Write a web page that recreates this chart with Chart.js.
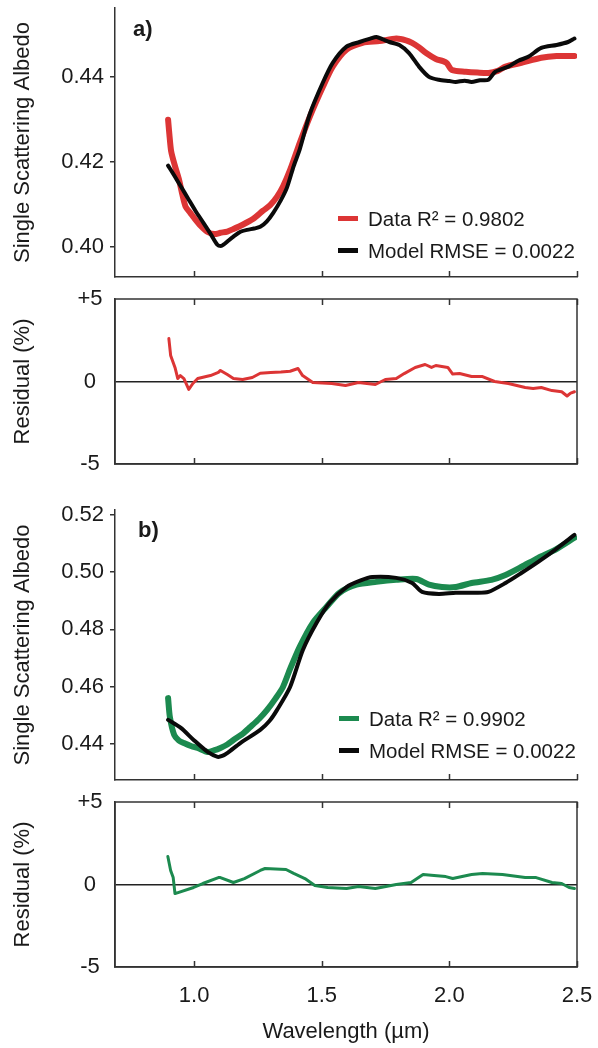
<!DOCTYPE html>
<html><head><meta charset="utf-8">
<script src="https://cdn.jsdelivr.net/npm/chart.js@4.4.1/dist/chart.umd.min.js"></script>
<style>
html,body{margin:0;padding:0;background:#fff;}
#wrap{position:relative;width:598px;height:1048px;overflow:hidden;font-family:'Liberation Sans',Arial,sans-serif;color:#1a1a1a;}
canvas{position:absolute;left:0;top:0;}
.lbl{position:absolute;white-space:nowrap;font-weight:bold;font-size:22px;line-height:26px;}
.leg{position:absolute;font-size:20.5px;line-height:24px;white-space:nowrap;}
.sw{position:absolute;width:20px;height:5px;}
</style></head><body>
<div id="wrap">
<canvas id="cA" width="598" height="1048"></canvas>
<canvas id="cRA" width="598" height="1048"></canvas>
<canvas id="cB" width="598" height="1048"></canvas>
<canvas id="cRB" width="598" height="1048"></canvas>
</div>
<script>
// ---------- data ----------
const xTicks = [1.0, 1.5, 2.0, 2.5];
const ssaTicksA = [0.40, 0.42, 0.44];
const ssaTicksB = [0.44, 0.46, 0.48, 0.50, 0.52];
const resTicks = [-5, 0, 5];
const panelLabels = ['a)', 'b)'];
const seriesNames = ['Data', 'Model'];
const legendA = ['Data R\u00B2 = 0.9802', 'Model RMSE = 0.0022'];
const legendB = ['Data R\u00B2 = 0.9902', 'Model RMSE = 0.0022'];

const wlDataA  = [0.898,0.903,0.910,0.925,0.940,0.955,0.967,0.985,1.000,1.025,1.053,1.080,1.103,1.130,1.154,1.190,1.232,1.270,1.298,1.325,1.349,1.376,1.414,1.453,1.504,1.543,1.597,1.660,1.726,1.792,1.830,1.854,1.880,1.909,1.947,1.975,1.990,2.010,2.064,2.110,2.153,2.190,2.220,2.282,2.360,2.420,2.490];
const ssaDataA = [0.4299,0.4265,0.4225,0.4190,0.4160,0.4120,0.4094,0.4080,0.4068,0.4050,0.4035,0.4030,0.4033,0.4036,0.4042,0.4052,0.4066,0.4085,0.4098,0.4118,0.4143,0.4181,0.4245,0.4306,0.4376,0.4424,0.4464,0.4480,0.4484,0.4490,0.4486,0.4480,0.4470,0.4456,0.4442,0.4437,0.4432,0.4416,0.4412,0.4410,0.4409,0.4414,0.4424,0.4433,0.4445,0.4449,0.4449];

const wlModelA  = [0.898,0.921,0.950,0.975,1.005,1.037,1.065,1.091,1.105,1.115,1.135,1.154,1.180,1.208,1.235,1.259,1.285,1.310,1.340,1.364,1.390,1.414,1.453,1.504,1.543,1.597,1.648,1.690,1.714,1.740,1.765,1.804,1.842,1.881,1.920,1.959,2.000,2.025,2.060,2.087,2.120,2.153,2.180,2.231,2.270,2.309,2.360,2.420,2.465,2.490];
const ssaModelA = [0.4191,0.4169,0.4140,0.4115,0.4085,0.4056,0.4030,0.4005,0.4002,0.4005,0.4015,0.4024,0.4035,0.4040,0.4043,0.4047,0.4060,0.4080,0.4110,0.4140,0.4190,0.4230,0.4312,0.4386,0.4433,0.4471,0.4482,0.4490,0.4494,0.4488,0.4482,0.4475,0.4456,0.4424,0.4400,0.4393,0.4390,0.4388,0.4391,0.4388,0.4392,0.4393,0.4412,0.4424,0.4438,0.4447,0.4468,0.4475,0.4482,0.4490];

const wlResA  = [0.901,0.908,0.925,0.936,0.946,0.960,0.979,0.995,1.014,1.064,1.095,1.103,1.130,1.154,1.190,1.228,1.259,1.300,1.340,1.376,1.407,1.425,1.465,1.539,1.593,1.644,1.710,1.749,1.792,1.823,1.866,1.905,1.930,1.947,1.994,2.013,2.040,2.087,2.130,2.177,2.231,2.297,2.328,2.360,2.402,2.440,2.461,2.475,2.490];
const resA    = [2.6,1.58,0.85,0.18,0.36,0.18,-0.48,-0.12,0.18,0.36,0.55,0.67,0.42,0.18,0.12,0.24,0.50,0.55,0.58,0.62,0.79,0.36,-0.06,-0.12,-0.24,-0.06,-0.18,0.12,0.18,0.48,0.85,1.03,0.85,0.97,0.85,0.45,0.48,0.30,0.30,0.00,-0.12,-0.36,-0.42,-0.36,-0.55,-0.62,-0.88,-0.70,-0.62];

const wlDataB  = [0.898,0.905,0.922,0.940,0.960,0.990,1.014,1.053,1.080,1.103,1.130,1.154,1.190,1.220,1.255,1.286,1.320,1.348,1.376,1.414,1.465,1.519,1.570,1.636,1.714,1.792,1.870,1.920,1.971,2.025,2.087,2.165,2.220,2.282,2.348,2.414,2.490];
const ssaDataB = [0.4560,0.4494,0.4431,0.4412,0.4403,0.4392,0.4386,0.4372,0.4378,0.4386,0.4398,0.4414,0.4435,0.4459,0.4488,0.4519,0.4560,0.4599,0.4662,0.4740,0.4823,0.4879,0.4928,0.4956,0.4966,0.4973,0.4976,0.4956,0.4948,0.4948,0.4962,0.4973,0.4990,0.5018,0.5050,0.5078,0.5120];

const wlModelB  = [0.898,0.948,0.998,1.053,1.092,1.110,1.131,1.181,1.259,1.295,1.325,1.376,1.426,1.480,1.531,1.597,1.650,1.698,1.792,1.854,1.893,1.959,2.025,2.103,2.153,2.220,2.282,2.348,2.414,2.490];
const ssaModelB = [0.4484,0.4456,0.4414,0.4372,0.4355,0.4358,0.4369,0.4403,0.4449,0.4480,0.4519,0.4599,0.4728,0.4823,0.4893,0.4948,0.4970,0.4983,0.4980,0.4962,0.4931,0.4924,0.4928,0.4928,0.4931,0.4962,0.4997,0.5036,0.5078,0.5130];

const wlResB = [0.897,0.908,0.918,0.925,0.998,1.034,1.095,1.103,1.154,1.197,1.259,1.278,1.360,1.390,1.434,1.473,1.523,1.597,1.644,1.710,1.792,1.850,1.897,1.940,1.986,2.013,2.087,2.130,2.208,2.297,2.340,2.402,2.440,2.469,2.490];
const resB   = [1.7,0.85,0.42,-0.55,-0.18,0.06,0.42,0.42,0.12,0.36,0.85,0.97,0.91,0.67,0.36,-0.06,-0.18,-0.24,-0.12,-0.24,0.0,0.12,0.61,0.55,0.48,0.36,0.61,0.67,0.61,0.42,0.42,0.12,0.06,-0.18,-0.24];

// ---------- styling / layout ----------
const W = 598, H = 1048, LEFT = 115, RIGHT = 577;
const AX = '#333333', TXT = '#1a1a1a';
const RED = '#dc3535', GREEN = '#1c8a4f', BLACK = '#0a0a0a';
Chart.defaults.font.family = "'Liberation Sans', Arial, sans-serif";
Chart.defaults.color = TXT;

function pts(xs, ys) { return xs.map((x, i) => ({x: x, y: ys[i]})); }

const frame = {
  id: 'frame',
  afterDraw(chart, args, o) {
    const {ctx, chartArea: a} = chart;
    const xs = chart.scales.x;
    ctx.save();
    ctx.strokeStyle = AX; ctx.lineWidth = 1.5;
    ctx.beginPath();
    xTicks.forEach(v => {
      const px = Math.round(xs.getPixelForValue(v)) + 0.5;
      ctx.moveTo(px, a.bottom); ctx.lineTo(px, a.bottom - 6);
      if (o.top) { ctx.moveTo(px, a.top); ctx.lineTo(px, a.top + 6); }
    });
    ctx.stroke();
    if (o.box) ctx.strokeRect(a.left, a.top, a.right - a.left, a.bottom - a.top);
    ctx.restore();
  }
};

function makeChart(id, top, bottom, datasets, y, showX, isRes) {
  return new Chart(document.getElementById(id), {
    type: 'line',
    data: {datasets: datasets},
    plugins: [frame],
    options: {
      responsive: false, animation: false, devicePixelRatio: 1, events: [],
      layout: {padding: {top: top, bottom: showX ? 0 : H - bottom, left: 0, right: W - RIGHT}},
      plugins: {legend: {display: false}, tooltip: {enabled: false}, frame: {top: isRes, box: isRes}},
      elements: {point: {radius: 0}, line: {borderJoinStyle: 'round', borderCapStyle: 'round'}},
      scales: {
        x: {
          type: 'linear', min: 0.69, max: 2.5,
          afterBuildTicks: s => { s.ticks = xTicks.map(v => ({value: v})); },
          ticks: {display: showX, padding: 16, font: {size: 22}, color: TXT, maxRotation: 0, autoSkip: false,
                  callback: v => Number(v).toFixed(1)},
          grid: {display: true, drawOnChartArea: false, drawTicks: false},
          border: {display: true, color: AX, width: 1.5},
          title: {display: showX, text: 'Wavelength (\u00B5m)', font: {size: 22}, color: TXT, padding: {top: 0, bottom: 3}},
          afterFit: s => { s.height = showX ? 81 : 0; s.paddingLeft = 0; s.paddingRight = 0; }
        },
        y: {
          type: 'linear', min: y.min, max: y.max,
          afterBuildTicks: s => { s.ticks = y.ticks.map(v => ({value: v})); },
          ticks: {padding: isRes ? 12.5 : 6, font: {size: 22}, color: TXT, crossAlign: isRes ? 'center' : 'near',
                  callback: y.fmt},
          grid: isRes
            ? {drawOnChartArea: true, drawTicks: false, lineWidth: 1.5,
               color: c => (c.tick && c.tick.value === 0) ? '#222' : 'rgba(0,0,0,0)'}
            : {drawOnChartArea: false, drawTicks: true, tickLength: 5, color: AX, tickColor: AX, lineWidth: 1.5},
          border: {display: true, color: AX, width: 1.5},
          title: {display: true, text: y.title, font: {size: 22}, color: TXT, padding: {top: 10, bottom: 0}},
          afterFit: s => { s.width = LEFT; s.paddingTop = 0; s.paddingBottom = 0; }
        }
      }
    }
  });
}

const fmt2 = v => Number(v).toFixed(2);
const fmtRes = v => v > 0 ? '+' + v : String(v);

makeChart('cA', 8, 277, [
  {label: seriesNames[1], data: pts(wlModelA, ssaModelA), borderColor: BLACK, borderWidth: 4, tension: 0.25},
  {label: seriesNames[0], data: pts(wlDataA, ssaDataA), borderColor: RED, borderWidth: 6, tension: 0.25}
], {min: 0.3929, max: 0.4562, ticks: ssaTicksA, fmt: fmt2, title: 'Single Scattering Albedo'}, false, false);

makeChart('cRA', 299, 464, [
  {label: 'Residual', data: pts(wlResA, resA), borderColor: RED, borderWidth: 3, tension: 0}
], {min: -5, max: 5, ticks: resTicks, fmt: fmtRes, title: 'Residual (%)'}, false, true);

makeChart('cB', 510, 780, [
  {label: seriesNames[1], data: pts(wlModelB, ssaModelB), borderColor: BLACK, borderWidth: 4, tension: 0.25},
  {label: seriesNames[0], data: pts(wlDataB, ssaDataB), borderColor: GREEN, borderWidth: 6, tension: 0.25}
], {min: 0.4274, max: 0.5217, ticks: ssaTicksB, fmt: fmt2, title: 'Single Scattering Albedo'}, false, false);

makeChart('cRB', 802, 967, [
  {label: 'Residual', data: pts(wlResB, resB), borderColor: GREEN, borderWidth: 3, tension: 0}
], {min: -5, max: 5, ticks: resTicks, fmt: fmtRes, title: 'Residual (%)'}, true, true);

// ---------- overlay text (panel letters + legends) ----------
const wrap = document.getElementById('wrap');
function addDiv(cls, txt, left, top, extra) {
  const d = document.createElement('div');
  d.className = cls; if (txt) d.textContent = txt;
  d.style.left = left + 'px'; d.style.top = top + 'px';
  if (extra) Object.assign(d.style, extra);
  wrap.appendChild(d); return d;
}
addDiv('lbl', panelLabels[0], 133, 16);
addDiv('lbl', panelLabels[1], 138, 517);
function legend(items, colors, x, y0) {
  items.forEach((t, i) => {
    const cy = y0 + i * 32;
    addDiv('sw', '', x, cy - 2.5, {background: colors[i]});
    addDiv('leg', t, x + 30, cy - 11.5);
  });
}
legend(legendA, [RED, BLACK], 338, 218);
legend(legendB, [GREEN, BLACK], 339, 718);
</script>
</body></html>
